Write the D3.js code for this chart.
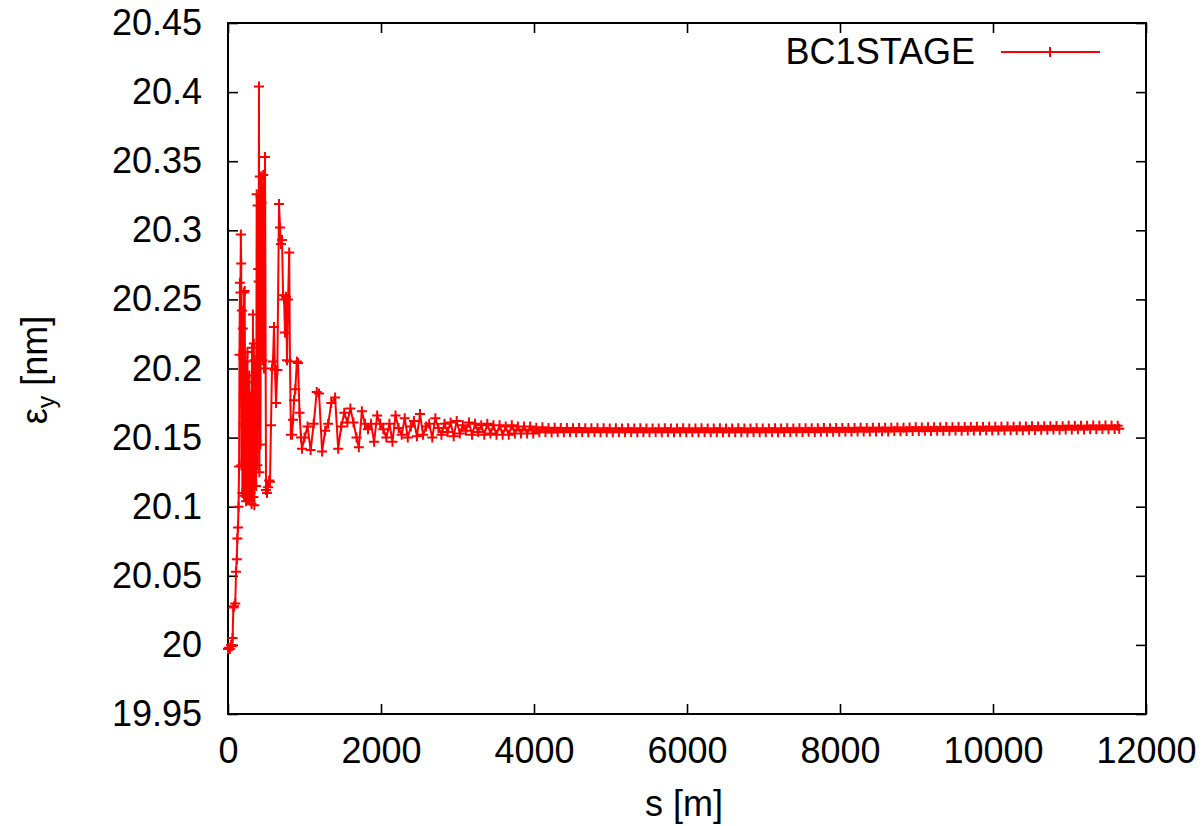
<!DOCTYPE html>
<html><head><meta charset="utf-8">
<script src="https://cdn.jsdelivr.net/npm/d3@7"></script>
<style>
body{margin:0;background:#fff}
svg{display:block}
text{font-family:"Liberation Sans",Arial,sans-serif;fill:#000}
</style>
</head><body>
<svg id="chart" width="1202" height="826"></svg>
<script>
// ---- data ----
const xTicks = [0, 2000, 4000, 6000, 8000, 10000, 12000];
const yTicks = [19.95, 20, 20.05, 20.1, 20.15, 20.2, 20.25, 20.3, 20.35, 20.4, 20.45];
const yTickLabels = ["19.95","20","20.05","20.1","20.15","20.2","20.25","20.3","20.35","20.4","20.45"];
const seriesName = "BC1STAGE";

const sEarly = [0,10,25,40,50,60,70,80,95,105,115,122,130,138,145,150,156,162,168,172,176,182,188,194,200,206,212,218,224,230,236,242,248,254,260,266,272,278,284,290,296,302,308,314,320,326,332,338,344,350,356,362,368,375,382,388,394,400,405,410,416,424,430,440,450,460,470,484,497,510,523,537,549,562,575,588,601,614,628,645,667,680,692,706,720,733,745,758,771,785,800,810,822,837,850,863,880,900,915,935,954,967];
const epsEarly = [19.997,19.998,19.997,20.000,19.999,20.005,20.027,20.028,20.030,20.053,20.062,20.077,20.085,20.100,20.129,20.210,20.262,20.255,20.297,20.276,20.130,20.242,20.110,20.229,20.160,20.255,20.108,20.256,20.175,20.205,20.104,20.190,20.110,20.212,20.106,20.150,20.105,20.195,20.108,20.180,20.110,20.170,20.102,20.215,20.130,20.239,20.107,20.218,20.101,20.206,20.140,20.185,20.115,20.326,20.130,20.318,20.272,20.263,20.404,20.125,20.339,20.145,20.339,20.320,20.206,20.340,20.200,20.353,20.112,20.110,20.114,20.119,20.118,20.159,20.200,20.205,20.230,20.199,20.175,20.199,20.319,20.302,20.290,20.293,20.253,20.250,20.226,20.252,20.206,20.250,20.284,20.205,20.152,20.152,20.163,20.177,20.185,20.205,20.204,20.168,20.150,20.142];

const sMid = [1000,1040,1080,1120,1160,1190,1230,1270,1310,1350,1400,1440,1480,1520,1560,1600,1640,1680,1710,1750,1790,1830,1870,1910,1950,1990,2030,2070,2110,2150,2190,2230,2270,2310,2350,2390,2430,2470,2510,2550,2590,2630,2670,2710,2750,2790,2830,2870,2910,2950,2990,3030,3070,3110,3150,3190,3230,3270,3310,3350,3390,3430,3470,3510,3550,3590,3630,3670,3710,3750,3790,3830,3870,3910,3950,3990];
const epsMid = [20.150,20.158,20.141,20.160,20.183,20.182,20.140,20.155,20.160,20.175,20.179,20.142,20.158,20.168,20.161,20.171,20.161,20.150,20.143,20.169,20.160,20.156,20.160,20.147,20.166,20.160,20.156,20.150,20.160,20.147,20.166,20.157,20.152,20.164,20.150,20.158,20.162,20.151,20.167,20.152,20.158,20.160,20.150,20.164,20.157,20.152,20.160,20.154,20.161,20.151,20.162,20.153,20.159,20.155,20.161,20.152,20.160,20.154,20.159,20.152,20.160,20.153,20.159,20.152,20.159,20.152,20.158,20.152,20.159,20.153,20.158,20.153,20.158,20.153,20.158,20.153];

const sTail = [4030,4070,4110,4150,4190,4230,4270,4310,4350,4390,
4430,4470,4510,4550,4590,4630,4670,4710,4750,4790,
4830,4870,4910,4950,4990,5030,5070,5110,5150,5190,
5230,5270,5310,5350,5390,5430,5470,5510,5550,5590,
5630,5670,5710,5750,5790,5830,5870,5910,5950,5990,
6030,6070,6110,6150,6190,6230,6270,6310,6350,6390,
6430,6470,6510,6550,6590,6630,6670,6710,6750,6790,
6830,6870,6910,6950,6990,7030,7070,7110,7150,7190,
7230,7270,7310,7350,7390,7430,7470,7510,7550,7590,
7630,7670,7710,7750,7790,7830,7870,7910,7950,7990,
8030,8070,8110,8150,8190,8230,8270,8310,8350,8390,
8430,8470,8510,8550,8590,8630,8670,8710,8750,8790,
8830,8870,8910,8950,8990,9030,9070,9110,9150,9190,
9230,9270,9310,9350,9390,9430,9470,9510,9550,9590,
9630,9670,9710,9750,9790,9830,9870,9910,9950,9990,
10030,10070,10110,10150,10190,10230,10270,10310,10350,10390,
10430,10470,10510,10550,10590,10630,10670,10710,10750,10790,
10830,10870,10910,10950,10990,11030,11070,11110,11150,11190,
11230,11270,11310,11350,11390,11430,11470,11510,11550,11590,
11630,11650];
const epsTail = [20.1572,20.1538,20.1574,20.1540,20.1570,20.1537,20.1571,20.1541,20.1569,20.1538,
20.1570,20.1540,20.1568,20.1539,20.1569,20.1541,20.1567,20.1538,20.1568,20.1540,
20.1567,20.1539,20.1568,20.1541,20.1566,20.1538,20.1567,20.1540,20.1566,20.1539,
20.1567,20.1540,20.1565,20.1538,20.1567,20.1541,20.1566,20.1539,20.1565,20.1540,
20.1566,20.1539,20.1567,20.1541,20.1565,20.1538,20.1566,20.1540,20.1567,20.1539,
20.1565,20.1541,20.1566,20.1539,20.1567,20.1540,20.1565,20.1538,20.1566,20.1541,
20.1567,20.1539,20.1565,20.1540,20.1566,20.1538,20.1567,20.1541,20.1565,20.1539,
20.1566,20.1540,20.1567,20.1539,20.1565,20.1541,20.1566,20.1540,20.1567,20.1539,
20.1566,20.1541,20.1567,20.1540,20.1566,20.1542,20.1568,20.1541,20.1567,20.1542,
20.1568,20.1541,20.1567,20.1543,20.1569,20.1542,20.1568,20.1543,20.1569,20.1542,
20.1570,20.1544,20.1569,20.1543,20.1570,20.1545,20.1571,20.1544,20.1570,20.1545,
20.1571,20.1545,20.1572,20.1546,20.1571,20.1545,20.1572,20.1547,20.1573,20.1546,
20.1572,20.1547,20.1573,20.1548,20.1574,20.1547,20.1573,20.1549,20.1574,20.1548,
20.1575,20.1549,20.1574,20.1550,20.1576,20.1549,20.1575,20.1551,20.1576,20.1550,
20.1577,20.1551,20.1576,20.1552,20.1578,20.1551,20.1577,20.1553,20.1578,20.1552,
20.1579,20.1553,20.1578,20.1554,20.1580,20.1553,20.1579,20.1555,20.1581,20.1554,
20.1580,20.1556,20.1582,20.1555,20.1581,20.1557,20.1583,20.1556,20.1582,20.1558,
20.1584,20.1557,20.1583,20.1559,20.1585,20.1558,20.1584,20.1560,20.1586,20.1559,
20.1585,20.1561,20.1587,20.1560,20.1586,20.1562,20.1588,20.1561,20.1587,20.1563,
20.1586,20.1564];

// ---- build points ----
function zip(a, b) { const n = Math.min(a.length, b.length); const r = []; for (let i = 0; i < n; i++) r.push([a[i], b[i]]); return r; }
const points = zip(sEarly, epsEarly).concat(zip(sMid, epsMid), zip(sTail, epsTail));

// ---- layout ----
const svg = d3.select("#chart");
const L = 228, R = 1146, T = 23, B = 714;
const x = d3.scaleLinear().domain([0, 12000]).range([L, R]);
const y = d3.scaleLinear().domain([19.95, 20.45]).range([B, T]);
const FS = 36;
const red = "#ff0000";
const LW = 2;

// axes
const gx = svg.append("g").attr("transform", `translate(0,${B})`)
  .call(d3.axisBottom(x).tickValues(xTicks).tickFormat(d3.format("d")).tickSizeInner(-10).tickSizeOuter(0).tickPadding(23));
const gy = svg.append("g").attr("transform", `translate(${L},0)`)
  .call(d3.axisLeft(y).tickValues(yTicks).tickFormat((d, i) => yTickLabels[i]).tickSizeInner(-10).tickSizeOuter(0).tickPadding(26));
const gt = svg.append("g").attr("transform", `translate(0,${T})`)
  .call(d3.axisTop(x).tickValues(xTicks).tickFormat("").tickSizeInner(-10).tickSizeOuter(0));
const gr = svg.append("g").attr("transform", `translate(${R},0)`)
  .call(d3.axisRight(y).tickValues(yTicks).tickFormat("").tickSizeInner(-10).tickSizeOuter(0));
[gx, gy, gt, gr].forEach(g => {
  g.select(".domain").remove();
  g.selectAll(".tick line").attr("stroke", "#000").attr("stroke-width", 1.6);
  g.selectAll(".tick text").attr("font-size", FS).attr("font-family", "'Liberation Sans', Arial, sans-serif").attr("fill", "#000");
});

// frame
svg.append("rect").attr("x", L).attr("y", T).attr("width", R - L).attr("height", B - T)
  .attr("fill", "none").attr("stroke", "#000").attr("stroke-width", 2);

// line
const line = d3.line().x(d => x(d[0])).y(d => y(d[1]));
svg.append("path").datum(points).attr("d", line)
  .attr("fill", "none").attr("stroke", red).attr("stroke-width", LW).attr("stroke-linejoin", "miter");

// markers
const m = 5;
const plus = (cx, cy) => `M${cx - m},${cy}H${cx + m}M${cx},${cy - m}V${cy + m}`;
svg.append("path")
  .attr("d", points.map(d => plus(x(d[0]), y(d[1]))).join(""))
  .attr("fill", "none").attr("stroke", red).attr("stroke-width", LW);

// legend
svg.append("text").attr("x", 975).attr("y", 64).attr("text-anchor", "end").attr("font-size", FS).text(seriesName);
svg.append("line").attr("x1", 1001).attr("x2", 1100).attr("y1", 52).attr("y2", 52).attr("stroke", red).attr("stroke-width", LW);
svg.append("path").attr("d", plus(1050, 52)).attr("stroke", red).attr("stroke-width", LW).attr("fill", "none");

// axis titles
svg.append("text").attr("x", (L + R) / 2 - 3).attr("y", 816).attr("text-anchor", "middle").attr("font-size", FS).text("s [m]");
const yt = svg.append("text").attr("transform", "translate(47,370) rotate(-90)").attr("text-anchor", "middle").attr("font-size", FS);
yt.append("tspan").text("ε");
yt.append("tspan").attr("font-size", 25).attr("dy", 8).text("y");
yt.append("tspan").attr("dy", -8).text(" [nm]");
</script>
</body></html>
